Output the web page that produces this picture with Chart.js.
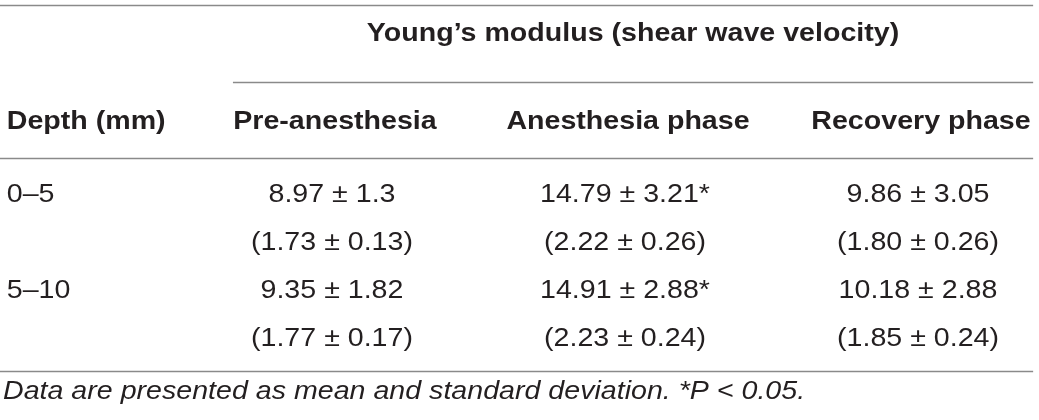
<!DOCTYPE html>
<html lang="en">
<head>
    <meta charset="UTF-8">
    <title>Young's modulus (shear wave velocity) by depth</title>
    <script src="https://cdn.jsdelivr.net/npm/chart.js"></script>
    <style>
        body { margin: 0; background: #fff; }
    </style>
</head>
<body>
    <canvas id="modulusTable" width="1039" height="420"></canvas>

    <script>
        // Tabellens data
        const groupTitle = "Young’s modulus (shear wave velocity)";
        const depthTitle = 'Depth (mm)';
        const depths = ['0–5', '5–10'];
        const phases = ['Pre-anesthesia', 'Anesthesia phase', 'Recovery phase'];
        const significant = [false, true, false];

        const modulusMean0to5 = ['8.97', '14.79', '9.86'];
        const modulusSd0to5 = ['1.3', '3.21', '3.05'];
        const velocityMean0to5 = ['1.73', '2.22', '1.80'];
        const velocitySd0to5 = ['0.13', '0.26', '0.26'];

        const modulusMean5to10 = ['9.35', '14.91', '10.18'];
        const modulusSd5to10 = ['1.82', '2.88', '2.88'];
        const velocityMean5to10 = ['1.77', '2.23', '1.85'];
        const velocitySd5to10 = ['0.17', '0.24', '0.24'];

        const footnote = 'Data are presented as mean and standard deviation. *P < 0.05.';

        // Layout i skalans enheter (x = kolumn, y = rad)
        const depthColX = -0.11;
        const ruleLeft = -0.133, ruleRight = 3.393, groupRuleLeft = 0.662;
        const rowY = { top: -3.958, group: -3.354, groupRule: -2.354, header: -1.521,
                       headerRule: -0.771, bottom: 3.667, note: 4.104 };

        const textColor = '#231f20';
        const ruleColor = '#8a8a8a';
        const fontFamily = '"Liberation Sans", Arial, Helvetica, sans-serif';
        const stretch = 1.1; // bredare glyfer, som Helvetica Neue

        // Bygg celltexterna
        const cellRows = [
            modulusMean0to5.map((m, i) => m + ' ± ' + modulusSd0to5[i] + (significant[i] ? '*' : '')),
            velocityMean0to5.map((m, i) => '(' + m + ' ± ' + velocitySd0to5[i] + ')'),
            modulusMean5to10.map((m, i) => m + ' ± ' + modulusSd5to10[i] + (significant[i] ? '*' : '')),
            velocityMean5to10.map((m, i) => '(' + m + ' ± ' + velocitySd5to10[i] + ')')
        ];

        const datasets = phases.map((phase, c) => ({
            label: phase,
            data: cellRows.map((row, r) => ({ x: c + 1, y: r, text: row[c] })),
            pointRadius: 0
        }));
        datasets.push({
            label: depthTitle,
            data: depths.map((d, i) => ({ x: depthColX, y: i * 2, text: d })),
            pointRadius: 0,
            align: 'left'
        });

        function drawText(ctx, text, x, y) {
            ctx.save();
            ctx.translate(x, y);
            ctx.scale(stretch, 1);
            ctx.fillText(text, 0, 0);
            ctx.restore();
        }

        const tablePlugin = {
            id: 'tablePlugin',
            afterDatasetsDraw(chart) {
                const ctx = chart.ctx;
                const xs = chart.scales.x, ys = chart.scales.y;
                ctx.save();

                // Linjer
                ctx.strokeStyle = ruleColor;
                ctx.lineWidth = 1.4;
                const rule = (x0, x1, y) => {
                    const py = Math.round(ys.getPixelForValue(y)) + 0.5;
                    ctx.beginPath();
                    ctx.moveTo(xs.getPixelForValue(x0), py);
                    ctx.lineTo(xs.getPixelForValue(x1), py);
                    ctx.stroke();
                };
                rule(ruleLeft, ruleRight, rowY.top);
                rule(groupRuleLeft, ruleRight, rowY.groupRule);
                rule(ruleLeft, ruleRight, rowY.headerRule);
                rule(ruleLeft, ruleRight, rowY.bottom);

                ctx.fillStyle = textColor;
                ctx.textBaseline = 'middle';

                // Rubriker
                ctx.font = 'bold 26px ' + fontFamily;
                ctx.textAlign = 'center';
                drawText(ctx, groupTitle, (xs.getPixelForValue(groupRuleLeft) + xs.getPixelForValue(ruleRight)) / 2,
                    ys.getPixelForValue(rowY.group));
                phases.forEach((p, c) => {
                    drawText(ctx, p, xs.getPixelForValue(c + 1) + 3, ys.getPixelForValue(rowY.header));
                });
                ctx.textAlign = 'left';
                drawText(ctx, depthTitle, xs.getPixelForValue(depthColX), ys.getPixelForValue(rowY.header));

                // Celler från datapunkterna
                ctx.font = '26px ' + fontFamily;
                chart.data.datasets.forEach((ds, d) => {
                    const meta = chart.getDatasetMeta(d);
                    ctx.textAlign = ds.align || 'center';
                    meta.data.forEach((pt, i) => {
                        drawText(ctx, ds.data[i].text, pt.x, pt.y);
                    });
                });

                // Fotnot
                ctx.font = 'italic 26px ' + fontFamily;
                ctx.textAlign = 'left';
                drawText(ctx, footnote, xs.getPixelForValue(ruleLeft) + 3, ys.getPixelForValue(rowY.note));
                ctx.restore();
            }
        };

        new Chart(document.getElementById('modulusTable').getContext('2d'), {
            type: 'scatter',
            data: { datasets: datasets },
            options: {
                responsive: false,
                animation: false,
                layout: { padding: 0 },
                scales: {
                    x: { type: 'linear', display: false, min: -0.133, max: 3.413 },
                    y: { type: 'linear', display: false, reverse: true, min: -4.0625, max: 4.6875 }
                },
                plugins: {
                    legend: { display: false },
                    tooltip: { enabled: false }
                }
            },
            plugins: [tablePlugin]
        });
    </script>
</body>
</html>
